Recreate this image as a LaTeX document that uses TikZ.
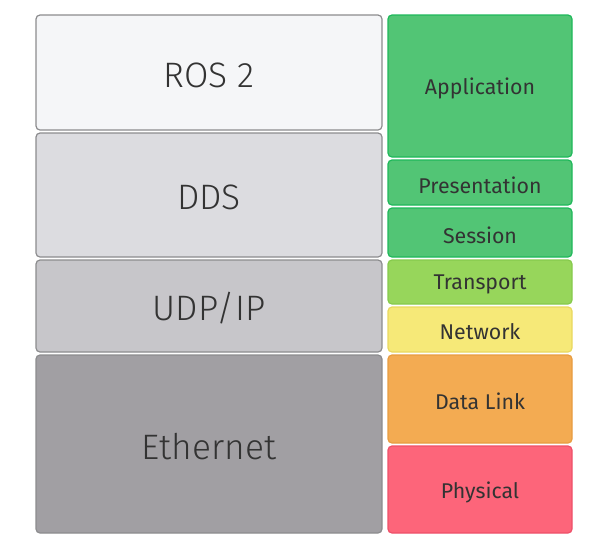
\documentclass[tikz,border=0pt]{standalone}
\usepackage{fontspec}
\setmainfont{Fira Sans}
\newfontfamily\lightfont{Fira Sans Light}
\usepackage{xcolor}
\definecolor{osigray}{HTML}{8C8C8E}
\definecolor{ositext}{HTML}{333333}
\definecolor{rosfill}{HTML}{F5F6F8}
\definecolor{ddsfill}{HTML}{DCDCE0}
\definecolor{udpfill}{HTML}{C7C6CA}
\definecolor{ethfill}{HTML}{A19FA3}
\definecolor{appfill}{HTML}{52C575}
\definecolor{appline}{HTML}{1EB85A}
\definecolor{trnfill}{HTML}{97D65B}
\definecolor{trnline}{HTML}{86CA4C}
\definecolor{netfill}{HTML}{F6E978}
\definecolor{netline}{HTML}{E9D85E}
\definecolor{dlkfill}{HTML}{F3AB52}
\definecolor{dlkline}{HTML}{E89C40}
\definecolor{phyfill}{HTML}{FD657A}
\definecolor{phyline}{HTML}{EE5069}
\newcommand{\rosfont}{\lightfont\fontsize{26.5}{30}\selectfont}
\newcommand{\osifont}{\fontsize{16}{19}\selectfont}
% #1 name, #2..#5 corners (px), #6 fill, #7 line, #8 font, #9 label
\newcommand{\xlayer}[9]{%
    \draw[rounded corners=3, line width=0.9pt, fill=#6, draw=#7]
        (#2,#3) rectangle (#4,#5);
    \node[text=ositext, font=#8] (#1) at ({(#2+#4)/2},{(#3+#5)/2+2.5}) {#9};
}

\begin{document}
\begin{tikzpicture}[x=0.75pt, y=-0.75pt]
    \useasboundingbox (0,0) rectangle (595,551);

    % ---------------- ROS 2 stack ----------------
    \xlayer{ros}{36}{15}{382}{130}{rosfill}{osigray}{\rosfont}{ROS 2}
    \xlayer{dds}{36}{133}{382}{257}{ddsfill}{osigray}{\rosfont}{DDS}
    \xlayer{udp}{36}{260}{382}{352}{udpfill}{osigray}{\rosfont}{UDP/IP}
    \xlayer{eth}{36}{355}{382}{533}{ethfill}{osigray}{\rosfont}{Ethernet}

    % ---------------- OSI layers ----------------
    \xlayer{app}{388}{15}{572}{157}{appfill}{appline}{\osifont}{Application}
    \xlayer{pre}{388}{160}{572}{205}{appfill}{appline}{\osifont}{Presentation}
    \xlayer{ses}{388}{208}{572}{257}{appfill}{appline}{\osifont}{Session}
    \xlayer{trn}{388}{260}{572}{304}{trnfill}{trnline}{\osifont}{Transport}
    \xlayer{net}{388}{307}{572}{352}{netfill}{netline}{\osifont}{Network}
    \xlayer{dlk}{388}{355}{572}{443}{dlkfill}{dlkline}{\osifont}{Data Link}
    \xlayer{phy}{388}{446}{572}{533}{phyfill}{phyline}{\osifont}{Physical}

\end{tikzpicture}
\end{document}
